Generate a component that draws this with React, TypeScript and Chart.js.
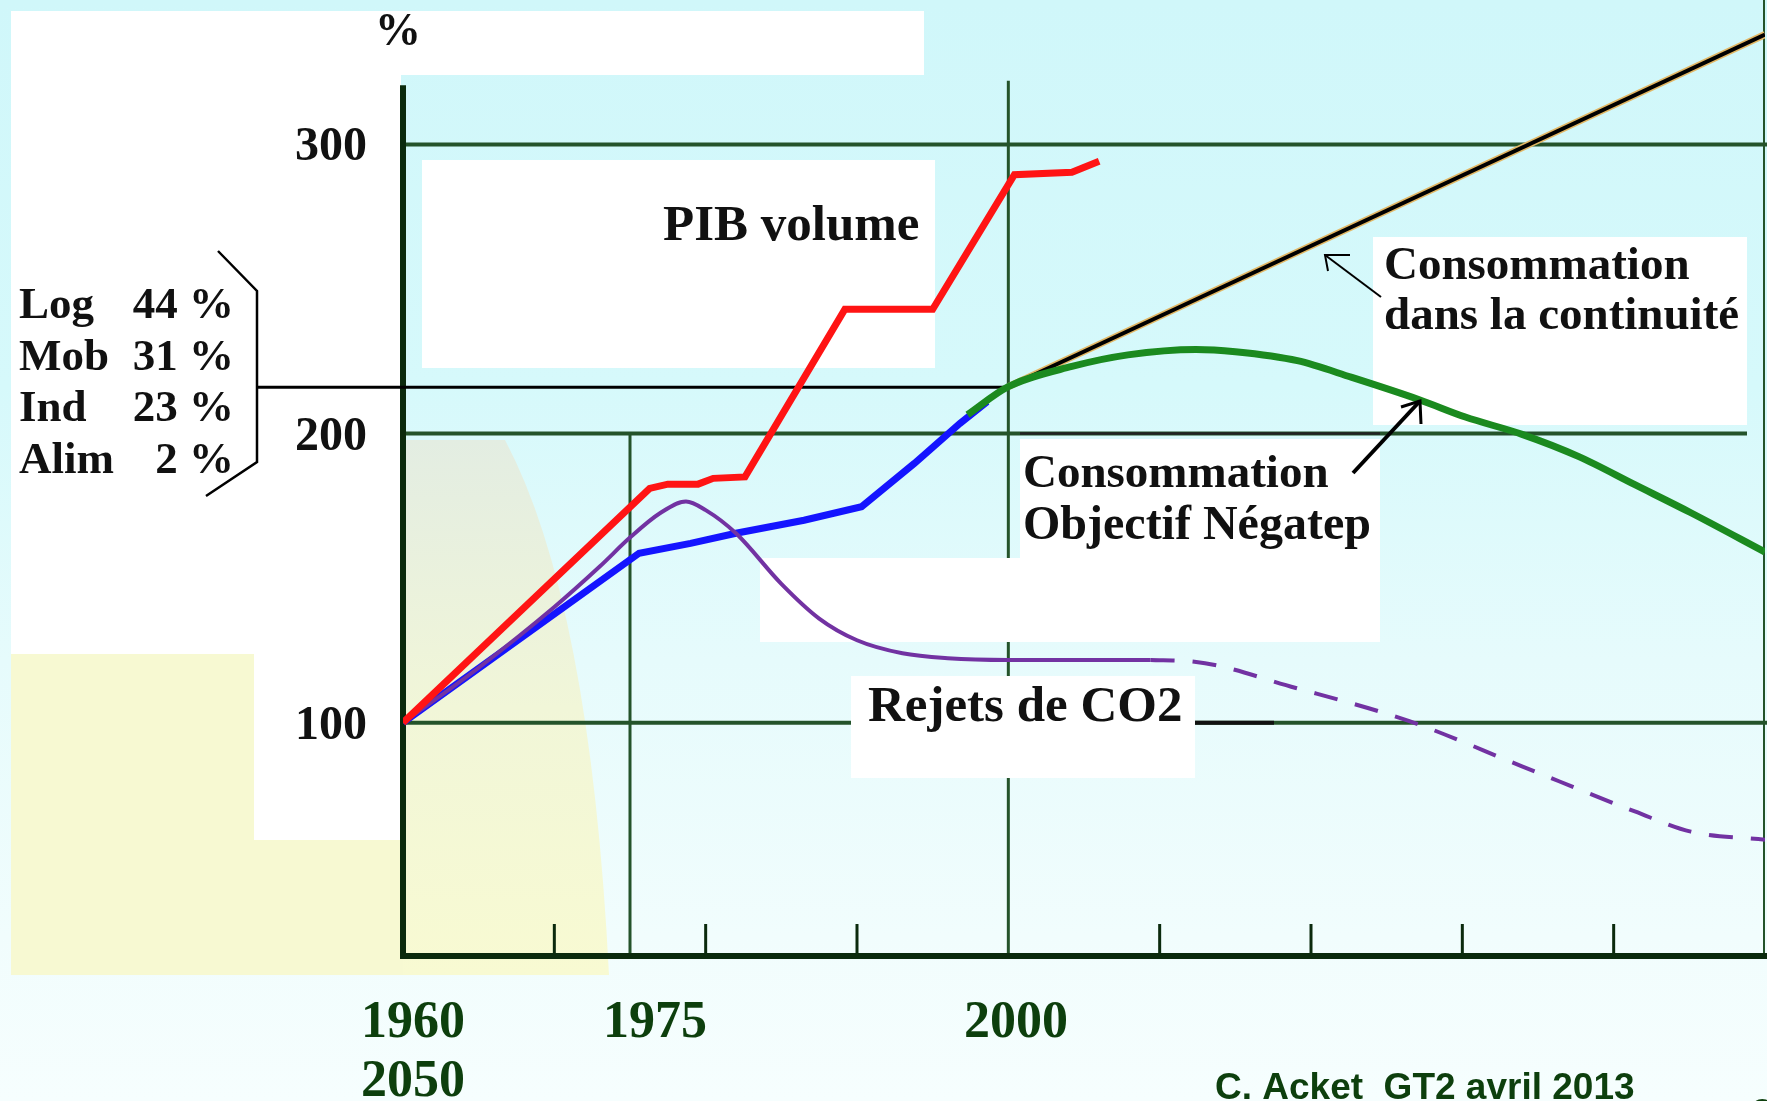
import React, { useEffect, useRef } from 'react';
import { Chart, registerables } from 'chart.js';

Chart.register(...registerables);

// ---------------- data ----------------
const pibYears = [1960, 1976.3, 1977.5, 1979.5, 1980.5, 1982.6, 1989.2, 1995.0, 2000.4, 2004.2, 2006.0];
const pibValues = [100, 181, 182.5, 182.5, 184.5, 185, 243, 243, 289.5, 290.4, 294.2];

const consoYears = [1960, 1975.6, 1979, 1982, 1986.5, 1990.3, 1993.8, 1996.8, 1998.6];
const consoValues = [100, 158.6, 162, 165.5, 170, 174.7, 189.7, 203.5, 211];

const negatepYears = [1997.3, 2000, 2004.2, 2007.9, 2012.4, 2015, 2019.1, 2022.7, 2027.2, 2030.2, 2033.9, 2037.7, 2041.4, 2045.1, 2050];
const negatepValues = [206.5, 216.2, 223.2, 227.2, 229.1, 228.3, 225.2, 219.4, 211.6, 205.7, 199.8, 192, 182.3, 172.6, 159];

const continuiteYears = [2000, 2050];
const continuiteValues = [216.2, 338];

const co2Years = [1960, 1965, 1970, 1973, 1975, 1977, 1978.7, 1980, 1982, 1985, 1987.5, 1990, 1993, 1996, 2000, 2009.4];
const co2Values = [100, 119, 140, 154, 164, 172.5, 176.5, 173.5, 165.5, 148, 136, 128.5, 124, 122.3, 121.7, 121.7];

const co2ProjYears = [2009.4, 2012.3, 2019, 2026.5, 2033.9, 2041.4, 2045.1, 2050];
const co2ProjValues = [121.7, 121.1, 112, 100.5, 85, 69.3, 62.3, 59.5];

const yTickValues = [100, 200, 300];
const yTickLabels = ['100', '200', '300'];
const xMinorTickYears = [1970, 1980, 1990, 2010, 2020, 2030, 2040];
const refLevel = 216; // consommation actuelle (ligne noire)

const shares = [
  { label: 'Log', value: '44 %' },
  { label: 'Mob', value: '31 %' },
  { label: 'Ind', value: '23 %' },
  { label: 'Alim', value: '2 %' },
];

// ---------------- styles ----------------
const SERIF = '"Liberation Serif", "Times New Roman", serif';
const SANS = '"Liberation Sans", Arial, sans-serif';
const GRID = '#24532a';
const AXIS = '#0b2a0d';
const YEAR_GREEN = '#0d3f0d';

const pts = (xs: number[], ys: number[]) => xs.map((x, i) => ({ x, y: ys[i] }));

function text(ctx: CanvasRenderingContext2D, s: string, x: number, y: number, font: string, color = '#111', align: CanvasTextAlign = 'left') {
  ctx.save();
  ctx.font = font;
  ctx.fillStyle = color;
  ctx.textAlign = align;
  ctx.textBaseline = 'alphabetic';
  ctx.fillText(s, x, y);
  ctx.restore();
}

function line(ctx: CanvasRenderingContext2D, p: number[][], color: string, w: number) {
  ctx.save();
  ctx.strokeStyle = color;
  ctx.lineWidth = w;
  ctx.lineCap = 'butt';
  ctx.lineJoin = 'miter';
  ctx.beginPath();
  p.forEach(([x, y], i) => (i ? ctx.lineTo(x, y) : ctx.moveTo(x, y)));
  ctx.stroke();
  ctx.restore();
}

const decor = {
  id: 'decor',
  beforeDatasetsDraw(chart: any) {
    const ctx: CanvasRenderingContext2D = chart.ctx;
    const X = (v: number) => chart.scales.x.getPixelForValue(v);
    const Y = (v: number) => chart.scales.y.getPixelForValue(v);
    const W = chart.width;
    const H = chart.height;
    const bottom = chart.chartArea.bottom;
    const left = X(1960);
    ctx.save();
    // background gradient
    const g = ctx.createLinearGradient(0, 0, 0, H);
    g.addColorStop(0, '#d0f7fa');
    g.addColorStop(0.35, '#d6f9fb');
    g.addColorStop(0.6, '#e6fbfc');
    g.addColorStop(0.85, '#f1fdfd');
    g.addColorStop(1, '#f6fefe');
    ctx.fillStyle = g;
    ctx.fillRect(0, 0, W, H);

    // yellow zone bottom-left
    ctx.fillStyle = '#f7f9d2';
    ctx.fillRect(11, 654, left - 11, 321);
    const gy = ctx.createLinearGradient(0, 440, 0, 975);
    gy.addColorStop(0, '#e3ede2');
    gy.addColorStop(0.5, '#f1f6d8');
    gy.addColorStop(1, '#f8fad2');
    ctx.fillStyle = gy;
    ctx.beginPath();
    ctx.moveTo(left, 440);
    ctx.lineTo(505, 440);
    ctx.quadraticCurveTo(590, 600, 609, 975);
    ctx.lineTo(left, 975);
    ctx.closePath();
    ctx.fill();

    // gridlines
    line(ctx, [[left, Y(300)], [W, Y(300)]], GRID, 4);
    line(ctx, [[left, Y(200)], [1747, Y(200)]], GRID, 4);
    line(ctx, [[left, Y(100)], [W, Y(100)]], GRID, 4);
    line(ctx, [[X(1975), Y(200)], [X(1975), bottom]], GRID, 3);
    line(ctx, [[X(2000), Y(322)], [X(2000), bottom]], GRID, 3);
    line(ctx, [[X(2050) - 1, 0], [X(2050) - 1, bottom]], GRID, 2);

    // white label boxes
    ctx.fillStyle = '#ffffff';
    const boxes = [
      [11, 11, 913, 64],
      [11, 75, 390, 579],
      [254, 614, 147, 226],
      [422, 160, 513, 208],
      [1373, 237, 374, 188],
      [1020, 439, 360, 119],
      [760, 558, 620, 84],
      [851, 676, 344, 102],
    ];
    boxes.forEach(([x, y, w, h]) => ctx.fillRect(x, y, w, h));

    // black segments
    line(ctx, [[1195, Y(100)], [1274, Y(100)]], '#111', 4);
    line(ctx, [[1020, Y(200)], [1380, Y(200)]], '#222', 2.5);

    // axes
    line(ctx, [[left, Y(320.5)], [left, bottom + 3]], AXIS, 6);
    line(ctx, [[left - 3, bottom], [W, bottom]], AXIS, 6);
    xMinorTickYears.forEach((yr) => line(ctx, [[X(yr), bottom], [X(yr), bottom - 32]], AXIS, 3));

    // reference line + bracket
    line(ctx, [[258, Y(refLevel)], [X(2000), Y(refLevel)]], '#000', 3);
    line(ctx, [[218, 251], [257, 291], [257, 462], [206, 496]], '#000', 2.5);
    ctx.restore();
  },
  afterDatasetsDraw(chart: any) {
    const ctx: CanvasRenderingContext2D = chart.ctx;
    const Y = (v: number) => chart.scales.y.getPixelForValue(v);
    const f47 = `bold 47px ${SERIF}`;
    const f51 = `bold 51px ${SERIF}`;
    // y labels
    text(ctx, '%', 375, 45, `bold 46px ${SERIF}`);
    yTickValues.forEach((v, i) => text(ctx, yTickLabels[i], 367, Y(v) + 16, `bold 48px ${SERIF}`, '#111', 'right'));
    // shares
    shares.forEach((s, i) => {
      const by = 318 + i * 51.5;
      text(ctx, s.label, 19, by, `bold 45px ${SERIF}`);
      text(ctx, s.value, 234, by, `bold 45px ${SERIF}`, '#111', 'right');
    });
    // series labels
    text(ctx, 'PIB volume', 663, 240, f51);
    text(ctx, 'Consommation', 1384, 279, f47);
    text(ctx, 'dans la continuité', 1384, 329, f47);
    text(ctx, 'Consommation', 1023, 487, f47);
    text(ctx, 'Objectif Négatep', 1023, 539, `bold 48px ${SERIF}`);
    text(ctx, 'Rejets de CO2', 868, 721, f51);
    // arrows
    line(ctx, [[1381, 297], [1325, 255]], '#000', 2);
    line(ctx, [[1350, 255], [1325, 255], [1328, 271]], '#000', 2);
    line(ctx, [[1353, 473], [1420, 401]], '#000', 4);
    line(ctx, [[1401, 407], [1420, 401], [1421, 424]], '#000', 3);
    // x labels
    const fy = `bold 52px ${SERIF}`;
    text(ctx, '1960', 361, 1037, fy, YEAR_GREEN);
    text(ctx, '2050', 361, 1096, fy, YEAR_GREEN);
    text(ctx, '1975', 603, 1037, fy, YEAR_GREEN);
    text(ctx, '2000', 964, 1037, fy, YEAR_GREEN);
    text(ctx, 'C. Acket  GT2 avril 2013', 1215, 1099, `bold 37px ${SANS}`, YEAR_GREEN);
    text(ctx, '8', 1752, 1125, `bold 37px ${SANS}`, YEAR_GREEN);
  },
};

export default function App() {
  const ref = useRef<HTMLCanvasElement>(null);
  useEffect(() => {
    if (!ref.current) return;
    const chart = new Chart(ref.current, {
      type: 'line',
      data: {
        datasets: [
          { label: 'PIB volume', data: pts(pibYears, pibValues), borderColor: '#ff1414', borderWidth: 7, tension: 0, order: 0 },
          { label: 'Consommation Objectif Négatep', data: pts(negatepYears, negatepValues), borderColor: '#1b8a1f', borderWidth: 7, cubicInterpolationMode: 'monotone', order: 1 },
          { label: 'Rejets de CO2', data: pts(co2Years, co2Values), borderColor: '#7232a2', borderWidth: 4, cubicInterpolationMode: 'monotone', order: 2 },
          { label: 'Rejets de CO2 (projection)', data: pts(co2ProjYears, co2ProjValues), borderColor: '#7232a2', borderWidth: 4, borderDash: [24, 18], cubicInterpolationMode: 'monotone', order: 2 },
          { label: 'Consommation dans la continuité', data: pts(continuiteYears, continuiteValues), borderColor: '#000000', borderWidth: 4, tension: 0, order: 3 },
          { label: 'continuité (ombre)', data: pts(continuiteYears, continuiteValues), borderColor: '#e2b765', borderWidth: 7, tension: 0, order: 4 },
          { label: 'Consommation', data: pts(consoYears, consoValues), borderColor: '#1414ff', borderWidth: 7, tension: 0, order: 5 },
        ],
      },
      options: {
        animation: false,
        responsive: false,
        devicePixelRatio: 1,
        layout: { padding: { left: 403, right: 2, top: 14, bottom: 145 } },
        plugins: { legend: { display: false }, tooltip: { enabled: false } },
        elements: { point: { radius: 0, hoverRadius: 0 } },
        scales: {
          x: { type: 'linear', min: 1960, max: 2050, display: false },
          y: { type: 'linear', min: 19.3, max: 345.1, display: false },
        },
      },
      plugins: [decor],
    } as any);
    return () => chart.destroy();
  }, []);
  return (
    <div style={{ position: 'fixed', left: 0, top: 0, width: 1767, height: 1101 }}>
      <canvas ref={ref} width={1767} height={1101} style={{ display: 'block' }} />
    </div>
  );
}
